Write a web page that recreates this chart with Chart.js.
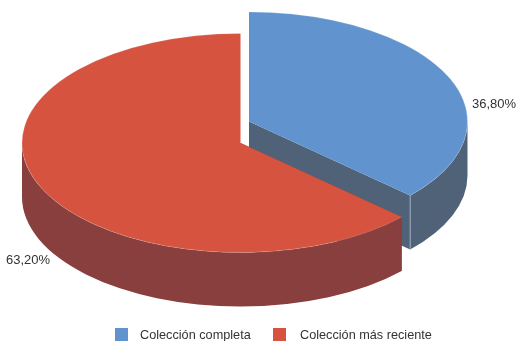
<!DOCTYPE html>
<html>
<head>
<meta charset="utf-8">
<style>
  html, body { margin: 0; padding: 0; background: #fff; }
  canvas { display: block; }
</style>
<script src="https://cdn.jsdelivr.net/npm/chart.js@4/dist/chart.umd.js"></script>
</head>
<body>
<canvas id="pieChart" width="516" height="341"></canvas>
<script>
const categories = ['Colección completa', 'Colección más reciente'];
const shares = [36.8, 63.2];

const FONT = '"Liberation Sans", Arial, sans-serif';
const TEXT_COLOR = '#333333';
const topColors = ['#6194CF', '#D65340'];
const wallColors = ['#506278', '#883F3D'];

// tilted disc: each slice has its own centre because the blue one is pulled out
const RADIUS_X = 218.5;
const RADIUS_Y = 109.5;
const DEPTH = 54;
const sliceCentres = [{ x: 249, y: 121.5 }, { x: 240.5, y: 143 }];
const valueLabelSpots = [{ x: 472, y: 104 }, { x: 6, y: 260 }];
const legendSpots = [{ box: 115, text: 140 }, { box: 273, text: 300 }];

function rimPoint(centre, angle) {
    return {
        x: centre.x + RADIUS_X * Math.cos(angle),
        y: centre.y + RADIUS_Y * Math.sin(angle)
    };
}

function topFace(ctx, arc, centre) {
    ctx.beginPath();
    ctx.moveTo(centre.x, centre.y);
    ctx.ellipse(centre.x, centre.y, RADIUS_X, RADIUS_Y, 0, arc.startAngle, arc.endAngle);
    ctx.closePath();
}

function cutFace(ctx, centre, angle) {
    const edge = rimPoint(centre, angle);
    ctx.beginPath();
    ctx.moveTo(centre.x, centre.y);
    ctx.lineTo(edge.x, edge.y);
    ctx.lineTo(edge.x, edge.y + DEPTH);
    ctx.lineTo(centre.x, centre.y + DEPTH);
    ctx.closePath();
    ctx.fill();
}

// only the part of the rim facing the viewer (angles 0 to PI) has a visible wall
function outerWall(ctx, arc, centre) {
    const from = Math.max(arc.startAngle, 0);
    const to = Math.min(arc.endAngle, Math.PI);
    if (from >= to) return;
    ctx.beginPath();
    ctx.ellipse(centre.x, centre.y, RADIUS_X, RADIUS_Y, 0, from, to);
    ctx.ellipse(centre.x, centre.y + DEPTH, RADIUS_X, RADIUS_Y, 0, to, from, true);
    ctx.closePath();
    ctx.fill();
}

function formatShare(value) {
    return value.toFixed(2).replace('.', ',') + '%';
}

const tiltedPie = {
    id: 'tiltedPie',
    // replaces the flat arcs with the extruded ones, using the angles Chart.js worked out
    beforeDatasetsDraw(chart) {
        const ctx = chart.ctx;
        const arcs = chart.getDatasetMeta(0).data;
        arcs.forEach((arc, i) => {
            const centre = sliceCentres[i];
            ctx.save();
            ctx.fillStyle = wallColors[i];
            cutFace(ctx, centre, arc.startAngle);
            cutFace(ctx, centre, arc.endAngle);
            outerWall(ctx, arc, centre);
            // pale seam where the outer wall meets the cut face
            if (i === 0) {
                const edge = rimPoint(centre, arc.endAngle);
                ctx.strokeStyle = '#9FAFC0';
                ctx.lineWidth = 1;
                ctx.beginPath();
                ctx.moveTo(edge.x, edge.y);
                ctx.lineTo(edge.x, edge.y + DEPTH);
                ctx.stroke();
            }
            topFace(ctx, arc, centre);
            ctx.fillStyle = topColors[i];
            ctx.fill();
            // faint highlight along the rim
            ctx.strokeStyle = 'rgba(255,255,255,0.22)';
            ctx.lineWidth = 0.7;
            ctx.beginPath();
            ctx.ellipse(centre.x, centre.y, RADIUS_X, RADIUS_Y, 0, arc.startAngle, arc.endAngle);
            ctx.stroke();
            ctx.restore();
        });
        return false;
    },
    afterDraw(chart) {
        const ctx = chart.ctx;
        ctx.save();
        ctx.fillStyle = TEXT_COLOR;
        ctx.textBaseline = 'middle';
        ctx.font = '13px ' + FONT;
        shares.forEach((v, i) => {
            ctx.fillText(formatShare(v), valueLabelSpots[i].x, valueLabelSpots[i].y);
        });
        ctx.font = '12.7px ' + FONT;
        categories.forEach((name, i) => {
            ctx.fillStyle = topColors[i];
            ctx.fillRect(legendSpots[i].box, 328, 13, 13);
            ctx.fillStyle = TEXT_COLOR;
            ctx.fillText(name, legendSpots[i].text, 335);
        });
        ctx.restore();
    }
};

new Chart(document.getElementById('pieChart'), {
    type: 'pie',
    data: {
        labels: categories,
        datasets: [{ data: shares, backgroundColor: topColors, borderWidth: 0 }]
    },
    options: {
        responsive: false,
        animation: false,
        plugins: { legend: { display: false }, tooltip: { enabled: false } }
    },
    plugins: [tiltedPie]
});
</script>
</body>
</html>
